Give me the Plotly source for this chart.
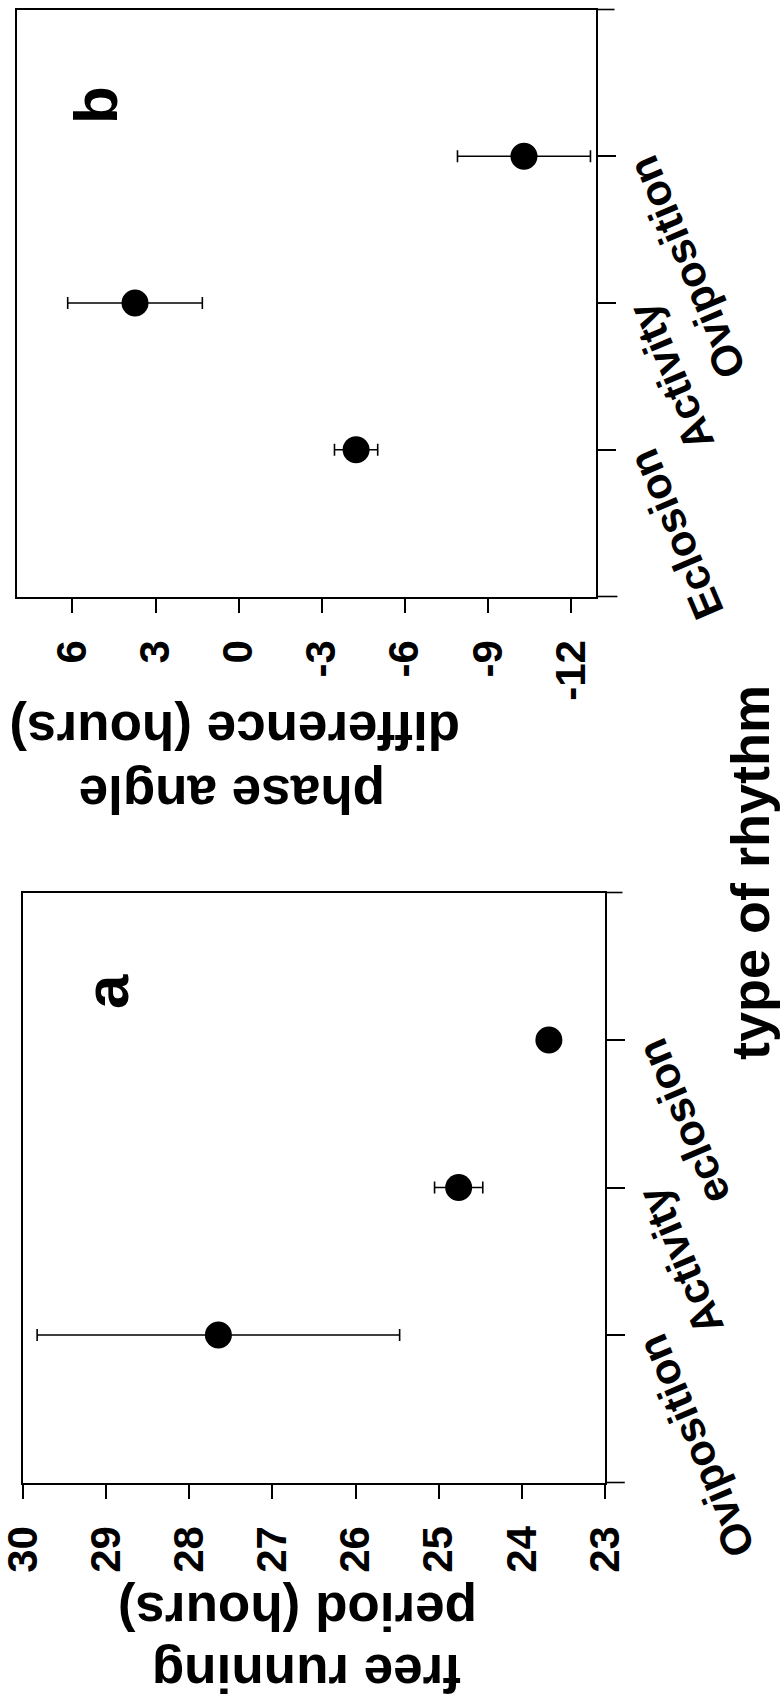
import plotly.graph_objects as go

# ---- data -------------------------------------------------------------
# panel a: free running period (hours) per rhythm type
rhythm_a = ["Oviposition", "Activity", "eclosion"]
period_mean = [27.65, 24.76, 23.675]
period_err = [2.18, 0.29, 0.0]
period_ticks = [30, 29, 28, 27, 26, 25, 24, 23]

# panel b: phase angle difference (hours) per rhythm type
rhythm_b = ["Eclosion", "Activity", "Oviposition"]
phase_mean = [-4.24, 3.74, -10.30]
phase_err = [0.78, 2.43, 2.40]
phase_ticks = [6, 3, 0, -3, -6, -9, -12]

W, H = 784, 1708
FONT = "Liberation Sans, Arial, Helvetica, sans-serif"
LW = 1.6


def px_x(p):
    return p / W


def px_y(p):
    return 1 - p / H


fig = go.Figure()

fig.add_trace(go.Scatter(
    x=period_mean, y=rhythm_a, mode="markers",
    marker=dict(color="black", size=27),
    error_x=dict(type="data", array=period_err, color="black",
                 thickness=1.6, width=6),
    xaxis="x", yaxis="y", showlegend=False,
))
fig.add_trace(go.Scatter(
    x=phase_mean, y=rhythm_b, mode="markers",
    marker=dict(color="black", size=27),
    error_x=dict(type="data", array=phase_err, color="black",
                 thickness=1.6, width=6),
    xaxis="x2", yaxis="y2", showlegend=False,
))

value_axis = dict(
    showline=True, linecolor="black", linewidth=LW, mirror=True,
    ticks="outside", ticklen=15, tickwidth=LW, tickcolor="black",
    tickangle=-90, showgrid=False, zeroline=False, ticklabelstandoff=10,
    ticklabeloverflow="allow", automargin=False,
    tickfont=dict(family=FONT, size=42, color="black", weight="bold"),
)
cat_axis = dict(
    type="category", side="right", range=[-1, 3],
    showline=True, linecolor="black", linewidth=LW, mirror=True,
    ticks="outside", ticklen=18, tickwidth=LW, tickcolor="black",
    showticklabels=False, showgrid=False, zeroline=False, automargin=False,
)

fig.update_layout(
    template="none",
    width=W, height=H, autosize=False,
    margin=dict(l=0, r=0, t=0, b=0, pad=0),
    paper_bgcolor="white", plot_bgcolor="white",
    xaxis=dict(value_axis, domain=[px_x(23), px_x(605)], range=[30, 23],
               tickvals=period_ticks, ticktext=[str(v) for v in period_ticks],
               anchor="y"),
    yaxis=dict(cat_axis, domain=[px_y(1482.5), px_y(892.5)],
               categoryorder="array", categoryarray=rhythm_a, anchor="x"),
    xaxis2=dict(value_axis, domain=[px_x(17), px_x(596)], range=[8, -12.9],
                tickvals=phase_ticks, ticktext=[str(v) for v in phase_ticks],
                anchor="y2"),
    yaxis2=dict(cat_axis, domain=[px_y(596.5), px_y(9.5)],
                categoryorder="array", categoryarray=rhythm_b, anchor="x2"),
)

# frame lines running on past the category axis
shapes = []
for xr, yr, ext_top, ext_bot in (("x", "y", 0.030, 0.034), ("x2", "y2", 0.032, 0.037)):
    shapes.append(dict(type="line", xref=f"{xr} domain", yref=f"{yr} domain",
                       x0=1, x1=1 + ext_top, y0=1, y1=1,
                       line=dict(color="black", width=LW)))
    shapes.append(dict(type="line", xref=f"{xr} domain", yref=f"{yr} domain",
                       x0=1, x1=1 + ext_bot, y0=0, y1=0,
                       line=dict(color="black", width=LW)))
fig.update_layout(shapes=shapes)

ann = []
# slanted category labels beside the right-hand axis
for yr, xr, cats in (("y", "x", rhythm_a), ("y2", "x2", rhythm_b)):
    for c in cats:
        ann.append(dict(
            text=c, x=1, xref=f"{xr} domain", y=c, yref=yr,
            xanchor="left", yanchor="top", xshift=20, yshift=10,
            textangle=-113, showarrow=False,
            font=dict(family=FONT, size=43, color="black", weight="bold"),
        ))

# value-axis titles, set upside down like the rest of the rotated figure
title_font = dict(family=FONT, size=53, color="black", weight="bold")
for text, cx, cy in (("period (hours)", 297.5, 1612), ("free running", 307, 1674),
                     ("difference (hours)", 235, 731), ("phase angle", 232, 795)):
    ann.append(dict(text=text, x=px_x(cx), y=px_y(cy), xref="paper", yref="paper",
                    xanchor="center", yanchor="middle", textangle=180,
                    showarrow=False, font=title_font))

ann.append(dict(text="type of rhythm", x=px_x(750), y=px_y(873),
                xref="paper", yref="paper", xanchor="center", yanchor="middle",
                textangle=-90, showarrow=False,
                font=dict(family=FONT, size=54, color="black", weight="bold")))

# panel letters
for text, cx, cy in (("a", 106, 992), ("b", 95, 105)):
    ann.append(dict(text=text, x=px_x(cx), y=px_y(cy), xref="paper", yref="paper",
                    xanchor="center", yanchor="middle", textangle=-90,
                    showarrow=False,
                    font=dict(family=FONT, size=62, color="black", weight="bold")))

fig.update_layout(annotations=ann)

fig.write_html("out.html")
